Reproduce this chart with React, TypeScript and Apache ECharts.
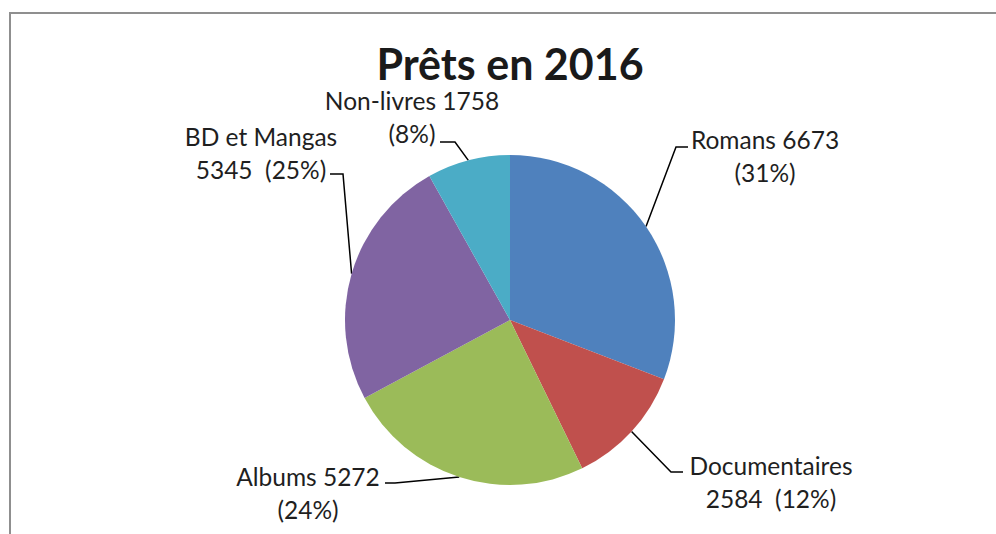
import React, { useEffect, useRef } from "react";
import * as echarts from "echarts";

const categories = ["Romans", "Documentaires", "Albums", "BD et Mangas", "Non-livres"];
const values = [6673, 2584, 5272, 5345, 1758];
const colors = ["#4F81BD", "#C0504D", "#9BBB59", "#8064A2", "#4BACC6"];
// whether the label breaks right after the name
const breakAfterName = [false, true, false, true, false];

// label placement (centre of the label block) and leader-line end point
const labelCenters: [number, number][] = [
  [765, 156],
  [771, 482],
  [308, 493],
  [261, 153],
  [412, 117],
];
const leaderEnds: [number, number][] = [
  [688, 147],
  [683, 472],
  [385, 483],
  [330, 174],
  [440, 142],
];
const leaderTail = [-12, -12, 10, 13, 15];

const FONT = "Lato";

export default function App() {
  const ref = useRef<HTMLDivElement>(null);
  useEffect(() => {
    if (!ref.current) return;
    const chart = echarts.init(ref.current, undefined, { renderer: "svg" });
    chart.setOption({
      animation: false,
      backgroundColor: "#ffffff",
      graphic: [
        {
          type: "rect",
          shape: { x: 10, y: 13, width: 1100, height: 700 },
          style: { fill: "none", stroke: "#8f8f8f", lineWidth: 2 },
          silent: true,
        },
        {
          type: "text",
          x: 510,
          y: 63,
          style: {
            text: "Prêts en 2016",
            fontFamily: FONT,
            fontSize: 43,
            fontWeight: "bold",
            fill: "#1a1a1a",
            textAlign: "center",
            textVerticalAlign: "middle",
          },
        },
      ],
      series: [
        {
          type: "pie",
          center: [510, 320],
          radius: 165,
          startAngle: 90,
          clockwise: true,
          percentPrecision: 0,
          avoidLabelOverlap: false,
          emphasis: { disabled: true },
          itemStyle: { borderWidth: 0 },
          label: {
            show: true,
            position: "outside",
            fontFamily: FONT,
            fontSize: 24.5,
            color: "#1f1f1f",
            lineHeight: 33,
            align: "center",
            formatter: (p: any) => {
              const i = p.dataIndex;
              return breakAfterName[i]
                ? `${p.name}\n${p.value}  (${p.percent}%)`
                : `${p.name} ${p.value}\n(${p.percent}%)`;
            },
          },
          labelLine: {
            show: true,
            lineStyle: { color: "#000000", width: 1.5 },
          },
          labelLayout: (params: any) => {
            const i = params.dataIndex;
            const pts = params.labelLinePoints;
            const end = leaderEnds[i];
            const bend = [end[0] + leaderTail[i], end[1]];
            return {
              x: labelCenters[i][0],
              y: labelCenters[i][1],
              align: "center",
              verticalAlign: "middle",
              labelLinePoints: pts ? [pts[0], bend, end] : undefined,
            };
          },
          data: categories.map((name, i) => ({
            name,
            value: values[i],
            itemStyle: { color: colors[i] },
          })),
        },
      ],
    });
    return () => chart.dispose();
  }, []);
  return (
    <div
      ref={ref}
      style={{ position: "fixed", left: 0, top: 0, width: 996, height: 534 }}
    />
  );
}
